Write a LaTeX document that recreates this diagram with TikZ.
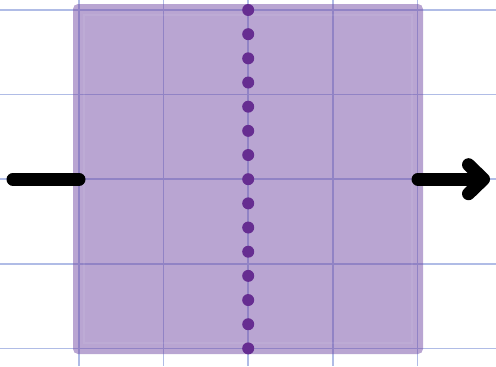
\documentclass[tikz,border=0pt]{standalone}
\usetikzlibrary{arrows.meta}
\definecolor{gridblue}{RGB}{176,188,230}
\definecolor{boxpurple}{RGB}{115,75,165}
\definecolor{dotpurple}{RGB}{102,45,145}
\tikzset{
  gridline/.style={draw=gridblue, line width=0.03cm},
  boxfill/.style={fill=boxpurple, fill opacity=0.5, rounded corners=0.1cm},
  boxinner/.style={draw=white, draw opacity=0.07, line width=0.03cm},
  dot/.style={circle, fill=dotpurple, inner sep=0pt, minimum size=0.24cm},
  wire/.style={line width=0.26cm, line cap=round, line join=round, black},
}
\begin{document}
\begin{tikzpicture}[x=0.02cm, y=-0.02cm]
\useasboundingbox (0,0) rectangle (496,366);
% grid
\foreach \gx in {79,163.6,248.2,332.8,417.4}
  \draw[gridline] (\gx,0) -- (\gx,366);
\foreach \gy in {10,94.6,179.2,263.8,348.4}
  \draw[gridline] (0,\gy) -- (496,\gy);
% box
\path[boxfill] (73,4) rectangle (423,354);
\draw[boxinner] (84,15) rectangle (412,343);
% dots
\foreach \i in {0,...,14}
  \node[dot] (d\i) at (248.2,{10+\i*24.17}) {};
% wires
\coordinate (inL) at (13,179.2);
\coordinate (inR) at (79,179.2);
\coordinate (outL) at (418,179.2);
\coordinate (outR) at (490,179.2);
\draw[wire] (inL) -- (inR);
\draw[wire, -{Straight Barb[length=0.3cm, width=0.58cm, round]}] (outL) -- (outR);
\end{tikzpicture}
\end{document}
